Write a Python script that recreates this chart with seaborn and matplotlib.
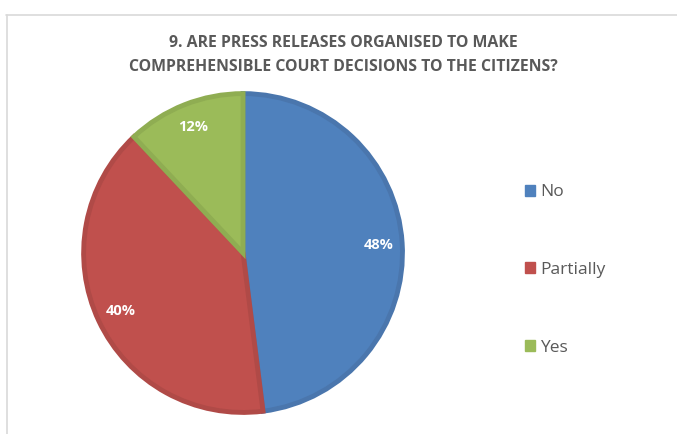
import matplotlib
matplotlib.use("Agg")
import matplotlib.pyplot as plt
from matplotlib.lines import Line2D
from matplotlib.patches import Patch
import seaborn as sns

# ── data ───────────────────────────────────────────────
labels = ["No", "Partially", "Yes"]
shares = [48, 40, 12]
colors = ["#4F81BD", "#C0504D", "#9BBB59"]
edges = ["#4A76AD", "#B04A47", "#8FAD52"]
title = "9. ARE PRESS RELEASES ORGANISED TO MAKE\nCOMPREHENSIBLE COURT DECISIONS TO THE CITIZENS?"

sns.set_theme(style="white")
plt.rcParams["font.family"] = ["Open Sans", "DejaVu Sans"]

fig = plt.figure(figsize=(6.77, 4.34), dpi=100)
fig.patch.set_facecolor("white")

# chart frame (top and left border)
fig.add_artist(Line2D([6 / 677, 1], [1 - 15 / 434, 1 - 15 / 434],
                      color="#D9D9D9", lw=1.2))
fig.add_artist(Line2D([7 / 677, 7 / 677], [0, 1 - 15 / 434],
                      color="#D9D9D9", lw=1.2))

ax = fig.add_axes([0.121, 0.046, 0.476, 0.742])
wedges, _, autotexts = ax.pie(
    shares, colors=colors, startangle=90, counterclock=False,
    autopct=lambda p: f"{p:.0f}%", pctdistance=0.85,
    wedgeprops=dict(linewidth=3.5),
    textprops=dict(color="white", fontsize=10.5, fontweight="bold"))
for w, ec in zip(wedges, edges):
    w.set_edgecolor(ec)
ax.set_xlim(-1.01, 1.01)
ax.set_ylim(-1.01, 1.01)
ax.set_aspect("equal")

fig.text(0.507, 0.873, title, ha="center", va="center", fontsize=11.4,
         fontweight="bold", color="#595959", linespacing=1.65)

handles = [Patch(facecolor=c, edgecolor=c) for c in colors]
leg = fig.legend(handles, labels, loc="center left",
                 bbox_to_anchor=(0.752, 0.378), frameon=False,
                 fontsize=12.5, labelspacing=3.55, handlelength=0.6,
                 handleheight=0.6, handletextpad=0.3)
for t in leg.get_texts():
    t.set_color("#595959")

plt.savefig("out.png", dpi=100)
